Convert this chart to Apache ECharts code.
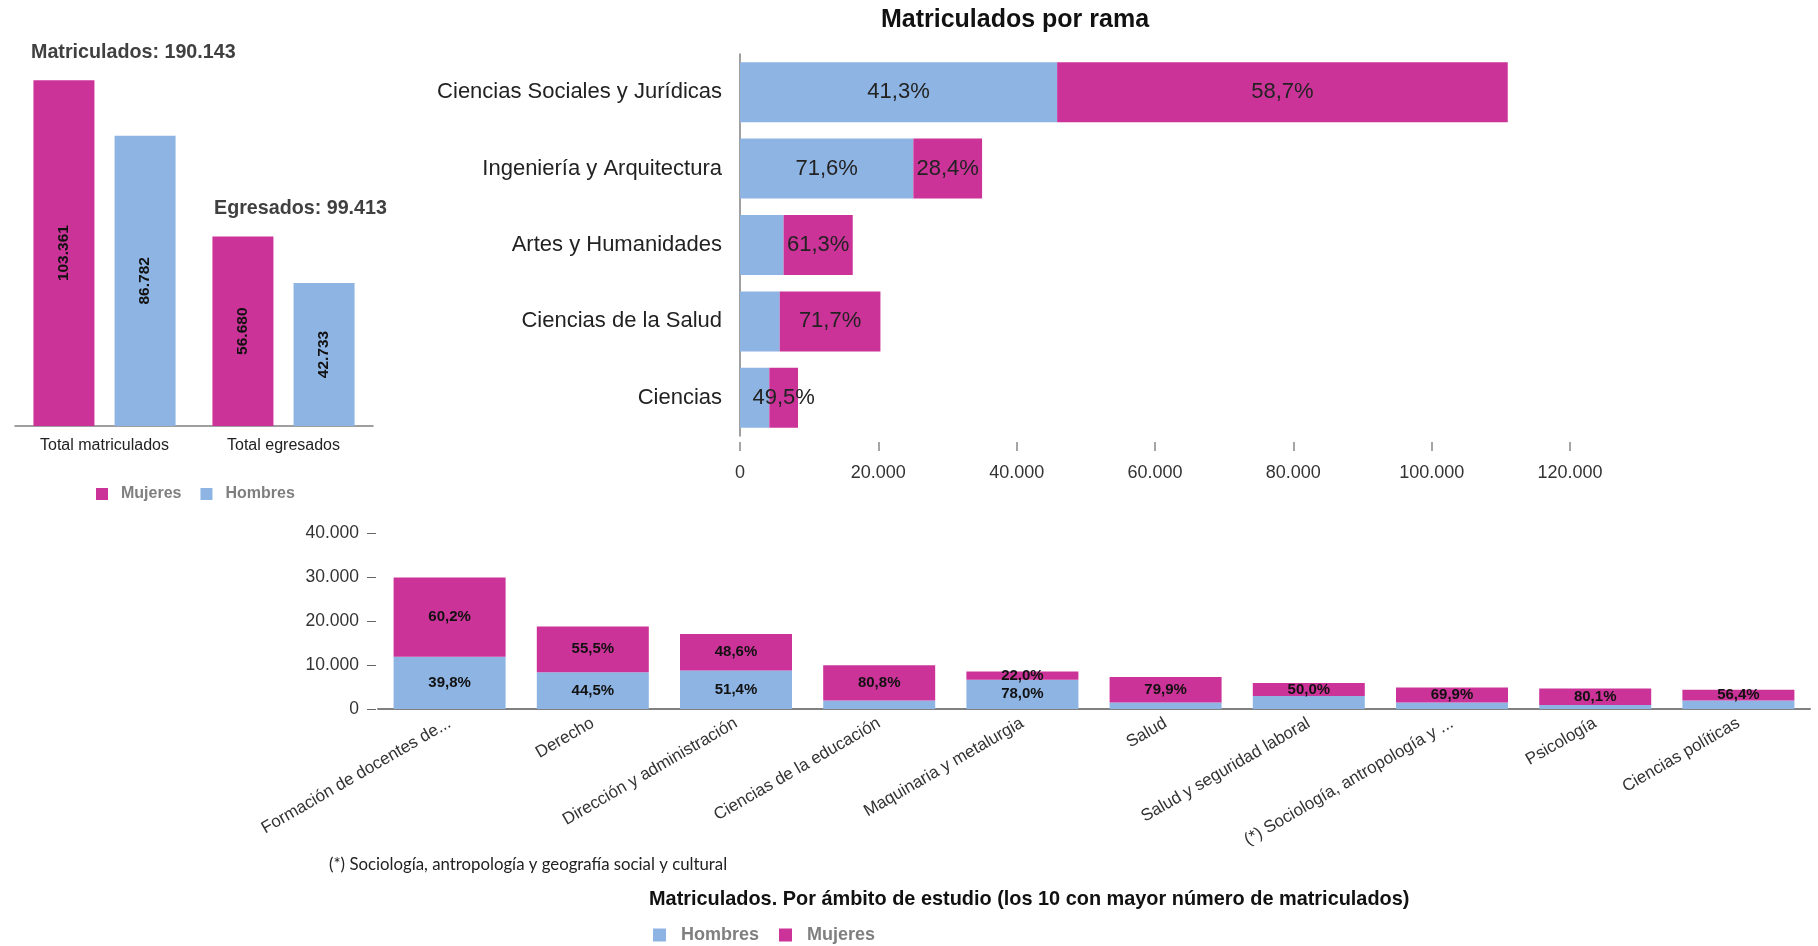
<!DOCTYPE html>
<html><head><meta charset="utf-8">
<script src="https://cdn.jsdelivr.net/npm/echarts@6/dist/echarts.min.js"></script>
<style>html,body{margin:0;padding:0;background:#fff}#c{width:1818px;height:946px}</style>
</head><body><div id="c"></div>
<script>
// ---- Data ----
const totalCats = ['Total matriculados', 'Total egresados'];
const totalMujeres = [103361, 56680];
const totalHombres = [86782, 42733];
const totalTitles = ['Matriculados: 190.143', 'Egresados: 99.413'];

const ramaCats = ['Ciencias Sociales y Jurídicas', 'Ingeniería y Arquitectura', 'Artes y Humanidades', 'Ciencias de la Salud', 'Ciencias'];
const ramaHombres = [45850, 25060, 6300, 5745, 4236];
const ramaMujeres = [65150, 9940, 10000, 14557, 4153];
const ramaPctHombres = [41.3, 71.6, null, null, null];
const ramaPctMujeres = [58.7, 28.4, 61.3, 71.7, 49.5];
const ramaTitle = 'Matriculados por rama';

const ambitoCats = ['Formación de docentes de...', 'Derecho', 'Dirección y administración', 'Ciencias de la educación', 'Maquinaria y metalurgia', 'Salud', 'Salud y seguridad laboral', '(*) Sociología, antropología y ...', 'Psicología', 'Ciencias políticas'];
const ambitoHombres = [11900, 8350, 8760, 1905, 6670, 1460, 2950, 1480, 930, 1915];
const ambitoMujeres = [18000, 10420, 8280, 8015, 1880, 5810, 2950, 3430, 3750, 2475];
const ambitoPctHombres = [39.8, 44.5, 51.4, null, 78.0, null, null, null, null, null];
const ambitoPctMujeres = [60.2, 55.5, 48.6, 80.8, 22.0, 79.9, 50.0, 69.9, 80.1, 56.4];
const ambitoTitle = 'Matriculados. Por ámbito de estudio (los 10 con mayor número de matriculados)';
const footnote = '(*) Sociología, antropología y geografía social y cultural';

// ---- Helpers ----
const FONT = "'Liberation Sans', Arial, sans-serif";
const MAG = '#CC3399', BLUE = '#8DB4E2';
const fmtNum = n => String(n).replace(/\B(?=(\d{3})+(?!\d))/g, '.');
const fmtPct = p => p == null ? '' : p.toFixed(1).replace('.', ',') + '%';

const chart = echarts.init(document.getElementById('c'), null, {renderer: 'canvas'});

const option = {
  animation: false,
  backgroundColor: '#fff',
  textStyle: {fontFamily: FONT},
  title: [
    {text: totalTitles[0], left: 31, top: 43, padding: 0,
     textStyle: {fontFamily: FONT, fontSize: 19.7, fontWeight: 'bold', color: '#404040', lineHeight: 20}},
    {text: totalTitles[1], left: 214, top: 199, padding: 0,
     textStyle: {fontFamily: FONT, fontSize: 19.7, fontWeight: 'bold', color: '#404040', lineHeight: 20}},
    {text: ramaTitle, left: 1015, textAlign: 'center', top: 8, padding: 0,
     textStyle: {fontFamily: FONT, fontSize: 25, fontWeight: 'bold', color: '#111', lineHeight: 25}},
    {text: footnote, left: 329, top: 856, padding: 0,
     textStyle: {fontFamily: "Lato, 'Open Sans', sans-serif", fontSize: 16.8, fontWeight: 'normal', color: '#222', lineHeight: 18}},
    {text: ambitoTitle, left: 649, top: 890, padding: 0,
     textStyle: {fontFamily: FONT, fontSize: 19.9, fontWeight: 'bold', color: '#111', lineHeight: 20}}
  ],
  legend: [
    {data: ['Mujeres', 'Hombres'], left: 96, top: 486, itemWidth: 12, itemHeight: 12, itemGap: 19,
     icon: 'rect', padding: 0,
     textStyle: {fontFamily: FONT, fontSize: 16, fontWeight: 'bold', color: '#7f7f7f', padding: [0, 0, 0, 8]}},
    {data: ['Hombres', 'Mujeres'], left: 653, top: 926, itemWidth: 13, itemHeight: 13, itemGap: 20,
     icon: 'rect', padding: 0,
     textStyle: {fontFamily: FONT, fontSize: 18, fontWeight: 'bold', color: '#7f7f7f', padding: [0, 0, 0, 10]}}
  ],
  grid: [
    {left: 15, width: 358, top: 58, height: 368},
    {left: 740, width: 830, top: 54, height: 382},
    {left: 378, width: 1432, top: 533, height: 176}
  ],
  xAxis: [
    {type: 'category', gridIndex: 0, data: totalCats,
     axisLine: {lineStyle: {color: '#808080', width: 1.5}},
     axisTick: {length: 6, lineStyle: {color: '#808080', width: 1.5}},
     axisLabel: {fontFamily: FONT, fontSize: 16, color: '#222', margin: 12}},
    {type: 'value', gridIndex: 1, min: 0, max: 120000, interval: 20000, offset: 6,
     axisLine: {show: false},
     axisTick: {show: true, length: 9, lineStyle: {color: '#888', width: 1.5}},
     splitLine: {show: false},
     axisLabel: {fontFamily: FONT, fontSize: 18, color: '#333', margin: 22, formatter: v => fmtNum(v)}},
    {type: 'category', gridIndex: 2, data: ambitoCats,
     axisLine: {lineStyle: {color: '#808080', width: 2}},
     axisTick: {length: 6, lineStyle: {color: '#808080', width: 1.5}},
     axisLabel: {fontFamily: FONT, fontSize: 17, color: '#333', rotate: 30, interval: 0, margin: 13}}
  ],
  yAxis: [
    {type: 'value', gridIndex: 0, min: 0, max: 110000, show: false, splitLine: {show: false}},
    {type: 'category', gridIndex: 1, data: ramaCats, inverse: true,
     axisLine: {lineStyle: {color: '#808080', width: 1.5}},
     axisTick: {length: 8, lineStyle: {color: '#808080', width: 1.5}},
     axisLabel: {fontFamily: FONT, fontSize: 22, color: '#222', margin: 18, padding: [7, 0, 0, 0]}},
    {type: 'value', gridIndex: 2, min: 0, max: 40000, interval: 10000, offset: 2,
     axisLine: {show: false},
     axisTick: {show: true, length: 9, lineStyle: {color: '#666', width: 1}},
     splitLine: {show: false},
     axisLabel: {fontFamily: FONT, fontSize: 17.5, color: '#333', margin: 17, formatter: v => fmtNum(v)}}
  ],
  series: [
    {name: 'Mujeres', type: 'bar', xAxisIndex: 0, yAxisIndex: 0, data: totalMujeres,
     barWidth: 61, barGap: '33%', itemStyle: {color: MAG},
     label: {show: true, position: 'inside', rotate: 90, fontFamily: FONT, fontSize: 15.5, fontWeight: 'bold', color: '#111',
             formatter: p => fmtNum(p.value)}},
    {name: 'Hombres', type: 'bar', xAxisIndex: 0, yAxisIndex: 0, data: totalHombres,
     barWidth: 61, barGap: '33%', itemStyle: {color: BLUE},
     label: {show: true, position: 'inside', rotate: 90, fontFamily: FONT, fontSize: 15.5, fontWeight: 'bold', color: '#111',
             formatter: p => fmtNum(p.value)}},

    {name: 'Hombres', type: 'bar', xAxisIndex: 1, yAxisIndex: 1, stack: 'rama', data: ramaHombres,
     barWidth: 60, itemStyle: {color: BLUE},
     label: {show: true, position: 'inside', fontFamily: FONT, fontSize: 22, color: '#222', padding: [6, 0, 0, 0],
             formatter: p => fmtPct(ramaPctHombres[p.dataIndex])}},
    {name: 'Mujeres', type: 'bar', xAxisIndex: 1, yAxisIndex: 1, stack: 'rama', data: ramaMujeres,
     barWidth: 60, itemStyle: {color: MAG},
     label: {show: true, position: 'inside', fontFamily: FONT, fontSize: 22, color: '#222', padding: [6, 0, 0, 0],
             formatter: p => fmtPct(ramaPctMujeres[p.dataIndex])}},

    {name: 'Hombres', type: 'bar', xAxisIndex: 2, yAxisIndex: 2, stack: 'ambito', data: ambitoHombres,
     barWidth: 112, itemStyle: {color: BLUE},
     label: {show: true, position: 'inside', fontFamily: FONT, fontSize: 15, fontWeight: 'bold', color: '#111',
             formatter: p => fmtPct(ambitoPctHombres[p.dataIndex])}},
    {name: 'Mujeres', type: 'bar', xAxisIndex: 2, yAxisIndex: 2, stack: 'ambito', data: ambitoMujeres,
     barWidth: 112, itemStyle: {color: MAG},
     label: {show: true, position: 'inside', fontFamily: FONT, fontSize: 15, fontWeight: 'bold', color: '#111',
             formatter: p => fmtPct(ambitoPctMujeres[p.dataIndex])}}
  ]
};
chart.setOption(option);
</script>
</body></html>
